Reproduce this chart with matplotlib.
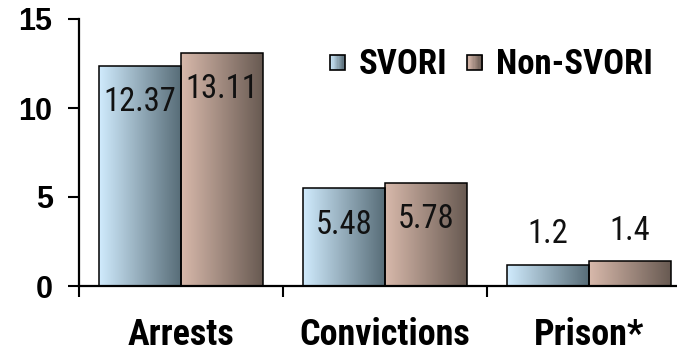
import matplotlib
matplotlib.use("Agg")
import matplotlib.pyplot as plt
import numpy as np
from matplotlib.patches import Rectangle
from matplotlib.legend_handler import HandlerBase
from matplotlib.colors import LinearSegmentedColormap, to_rgb
from matplotlib import font_manager as fm

categories = ["Arrests", "Convictions", "Prison*"]
series_names = ["SVORI", "Non-SVORI"]
svori = [12.37, 5.48, 1.2]
non_svori = [13.11, 5.78, 1.4]
value_labels_svori = ["12.37", "5.48", "1.2"]
value_labels_non = ["13.11", "5.78", "1.4"]
yticks = [0, 5, 10, 15]

# choose a narrow font if one is installed
names = {f.name for f in fm.fontManager.ttflist}
stretches = {(f.name, f.stretch) for f in fm.fontManager.ttflist}
narrow_family, narrow_stretch = "DejaVu Sans", "normal"
for cand in ["Liberation Sans Narrow", "Roboto Condensed", "Open Sans Condensed",
             "Noto Sans Condensed", "DejaVu Sans Condensed", "Arimo Narrow"]:
    if cand in names:
        narrow_family = cand
        break
else:
    found = None
    for (n, st) in stretches:
        if st in ("condensed", "semi-condensed", "extra-condensed", 100, 75, 87.5) \
                or (isinstance(st, str) and "condensed" in st):
            if n in ("DejaVu Sans", "Roboto", "Open Sans", "Noto Sans", "Liberation Sans", "Lato", "Inter"):
                found = (n, st)
                break
    if found:
        narrow_family, narrow_stretch = found
    else:
        narrow_family = "Roboto" if "Roboto" in names else "DejaVu Sans"

NARROW = [narrow_family, "DejaVu Sans"]
WIDE = ["Liberation Sans", "DejaVu Sans"]

grad_colors = {
    "SVORI": ("#d0ebfd", "#586d78"),
    "Non-SVORI": ("#d8b9ab", "#685a52"),
}

W, H = 677, 355
fig = plt.figure(figsize=(W / 100, H / 100), dpi=100)
ax = fig.add_axes([79 / W, 69 / H, 612 / W, 267 / H])

x = np.arange(len(categories))
bw = 0.40
series = [(series_names[0], svori, value_labels_svori, -bw / 2),
          (series_names[1], non_svori, value_labels_non, bw / 2)]

grad = np.linspace(0, 1, 256).reshape(1, -1)
for name, vals, labs, off in series:
    c0, c1 = grad_colors[name]
    cmap = LinearSegmentedColormap.from_list(name, [c0, c1])
    bars = ax.bar(x + off, vals, bw, facecolor="none", edgecolor="black",
                  linewidth=1.1, zorder=3, label=name)
    for b, lab, v in zip(bars, labs, vals):
        x0, y0 = b.get_x(), b.get_y()
        w, h = b.get_width(), b.get_height()
        im = ax.imshow(grad, cmap=cmap, extent=(x0, x0 + w, y0, y0 + h),
                       aspect="auto", zorder=2, interpolation="bilinear")
        im.set_clip_path(b)
        dy = -26 if v > 3 else 22
        ax.annotate(lab, (x0 + w / 2, y0 + h), xytext=(0, dy),
                    textcoords="offset points", ha="center", va="center",
                    fontsize=23.5, family=NARROW, stretch=narrow_stretch,
                    color="#111111", zorder=4)

ax.set_xlim(-0.5, 2.5)
ax.set_ylim(0, 15)
ax.set_yticks(yticks)
ax.set_yticklabels([str(t) for t in yticks], fontsize=22, fontweight="bold",
                   family=WIDE)
ax.set_xticks(x)
ax.set_xticklabels(categories, fontsize=26, fontweight="bold", family=NARROW,
                   stretch=narrow_stretch)
ax.set_xticks([-0.5, 0.5, 1.5, 2.5], minor=True)
ax.tick_params(axis="x", which="major", length=0, pad=22)
ax.tick_params(axis="x", which="minor", length=8, width=1.5, direction="out")
ax.tick_params(axis="y", length=8, width=1.5, direction="out", pad=11)

for s in ["top", "right"]:
    ax.spines[s].set_visible(False)
for s in ["left", "bottom"]:
    ax.spines[s].set_linewidth(1.6)


class GradHandler(HandlerBase):
    def __init__(self, c0, c1):
        super().__init__()
        self.c0, self.c1 = np.array(to_rgb(c0)), np.array(to_rgb(c1))

    def create_artists(self, legend, orig_handle, xdescent, ydescent, width,
                       height, fontsize, trans):
        side = height * 0.62
        x0 = -xdescent + (width - side)
        y0 = -ydescent + (height - side) / 2 - height * 0.03
        arts = []
        n = 12
        for i in range(n):
            t = i / (n - 1)
            col = (1 - t) * self.c0 + t * self.c1
            arts.append(Rectangle((x0 + i * side / n, y0), side / n + 0.3, side,
                                  facecolor=col, edgecolor="none", transform=trans))
        arts.append(Rectangle((x0, y0), side, side, facecolor="none",
                              edgecolor="black", linewidth=1.2, transform=trans))
        return arts


handles, labels = ax.get_legend_handles_labels()
leg = ax.legend(handles, labels, loc="upper left",
                bbox_to_anchor=(312 / W, (H - 34) / H), bbox_transform=fig.transFigure,
                ncol=2, frameon=False, handlelength=0.55, handletextpad=0.4,
                columnspacing=0.45, borderaxespad=0,
                prop={"family": NARROW, "weight": "bold", "size": 25,
                      "stretch": narrow_stretch},
                handler_map={handles[0]: GradHandler(*grad_colors["SVORI"]),
                             handles[1]: GradHandler(*grad_colors["Non-SVORI"])})

fig.savefig("out.png", dpi=100)
